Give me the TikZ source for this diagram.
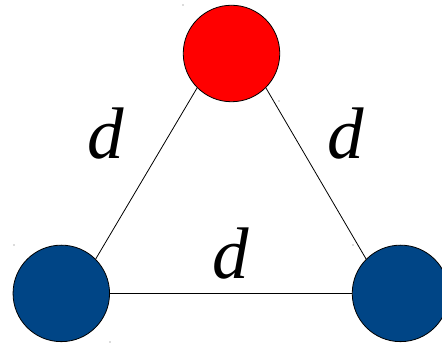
\documentclass[tikz,border=0pt]{standalone}
\usepackage{fontspec}
\setmainfont{Liberation Serif}
\definecolor{ballred}{HTML}{FF0000}
\definecolor{ballblue}{HTML}{004586}
\tikzset{
  ball/.style={circle, draw=black, line width=0.8pt, minimum size=96.5pt, inner sep=0pt},
  edge/.style={draw=black, line width=0.8pt},
  dlabel/.style={inner sep=0pt, font=\fontsize{73}{82}\selectfont\itshape},
  handle/.style={fill=black!60, inner sep=0pt, minimum size=1.2pt, circle}
}
\begin{document}
\begin{tikzpicture}[x=1pt, y=-1pt]
\useasboundingbox (0,0) rectangle (442,344);
\node[ball, fill=ballred] (top) at (231.5,53.5) {};
\node[ball, fill=ballblue] (left) at (61.3,293.4) {};
\node[ball, fill=ballblue] (right) at (400.5,293.4) {};
\draw[edge] (top.south west) -- (left.north east);
\draw[edge] (top.south east) -- (right.north west);
\draw[edge] (left.east) -- (right.west);
\node[dlabel] (dl) at (106,134) {d};
\node[dlabel] (dr) at (346,134) {d};
\node[dlabel] (db) at (231,254) {d};
\node[handle] (h1) at (183,5) {};
\node[handle] (h2) at (279,101) {};
\node[handle] (h3) at (14,245) {};
\node[handle] (h4) at (110,342) {};
\node[handle] (h5) at (353,245) {};
\end{tikzpicture}
\end{document}
